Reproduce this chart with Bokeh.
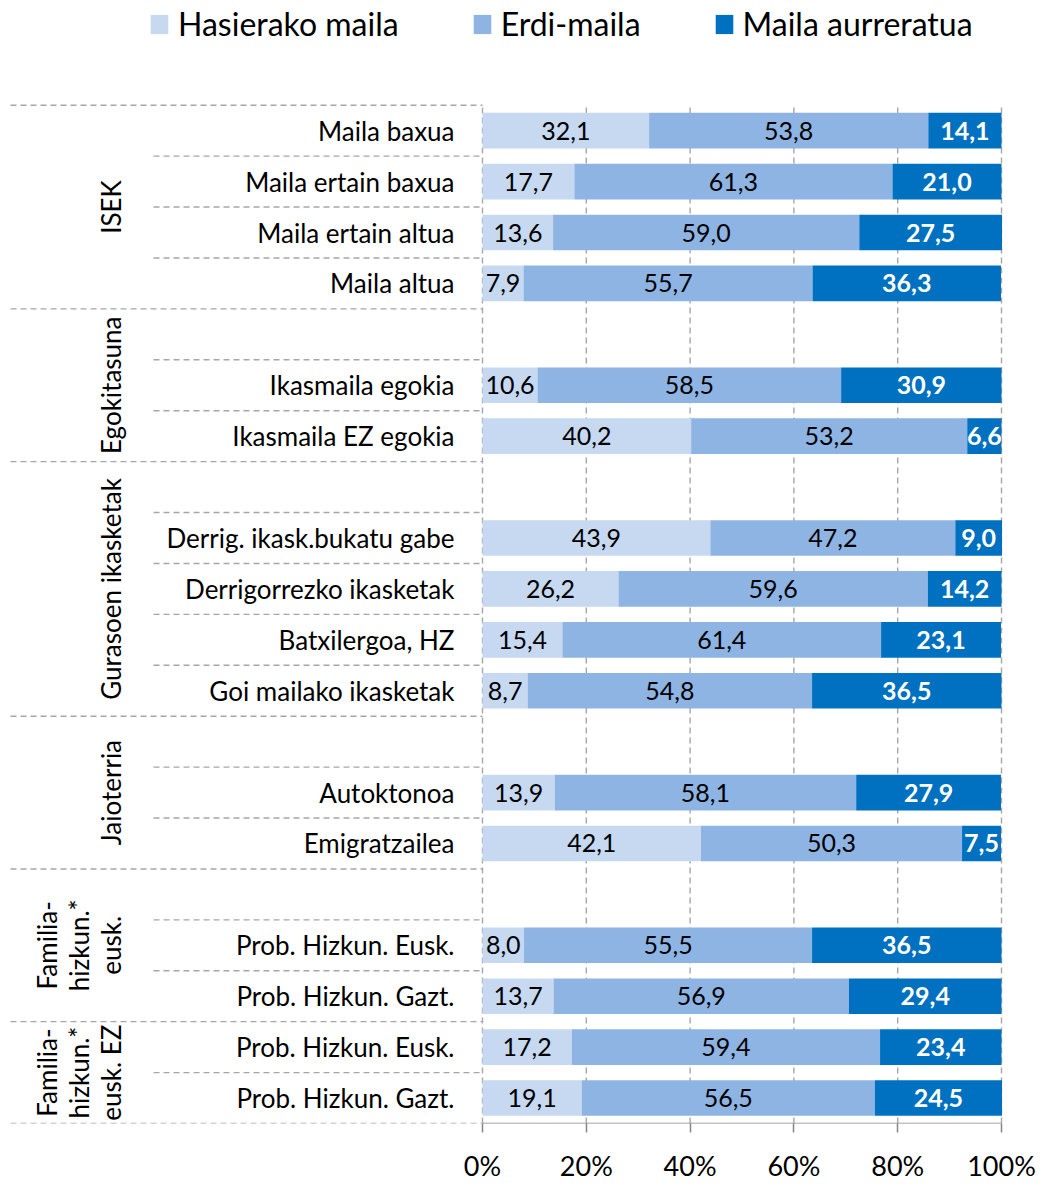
import math
from bokeh.plotting import figure
from bokeh.models import (ColumnDataSource, Range1d, FixedTicker, Legend, LegendItem)
from bokeh.core.properties import value
from bokeh.embed import file_html
from bokeh.resources import INLINE

# ---------------- data ----------------
series_names = ["Hasierako maila", "Erdi-maila", "Maila aurreratua"]

group_labels = ["ISEK", "Egokitasuna", "Gurasoen ikasketak", "Jaioterria",
                "Familia-\nhizkun.*\neusk.", "Familia-\nhizkun.*\neusk. EZ"]
group_sizes = [4, 3, 5, 3, 3, 2]   # rows per group (blank rows included)

categories = ["Maila baxua", "Maila ertain baxua", "Maila ertain altua", "Maila altua",
              "", "Ikasmaila egokia", "Ikasmaila EZ egokia",
              "", "Derrig. ikask.bukatu gabe", "Derrigorrezko ikasketak", "Batxilergoa, HZ", "Goi mailako ikasketak",
              "", "Autoktonoa", "Emigratzailea",
              "", "Prob. Hizkun. Eusk.", "Prob. Hizkun. Gazt.",
              "Prob. Hizkun. Eusk.", "Prob. Hizkun. Gazt."]

N = None
hasierako = [32.1, 17.7, 13.6, 7.9, N, 10.6, 40.2, N, 43.9, 26.2, 15.4, 8.7, N, 13.9, 42.1, N, 8.0, 13.7, 17.2, 19.1]
erdi      = [53.8, 61.3, 59.0, 55.7, N, 58.5, 53.2, N, 47.2, 59.6, 61.4, 54.8, N, 58.1, 50.3, N, 55.5, 56.9, 59.4, 56.5]
aurrera   = [14.1, 21.0, 27.5, 36.3, N, 30.9, 6.6, N, 9.0, 14.2, 23.1, 36.5, N, 27.9, 7.5, N, 36.5, 29.4, 23.4, 24.5]

x_ticks = [0, 20, 40, 60, 80, 100]
x_tick_labels = ["0%", "20%", "40%", "60%", "80%", "100%"]

# ---------------- styles ----------------
COLORS = ["#C6D9F1", "#8EB4E3", "#0070C0"]
FONT = "Lato"
GRID = "#A6A6A6"
W, H = 1040, 1184
PX = 5.19                      # pixels per percent
X0 = -482 / PX
X1 = X0 + W / PX
ROWPX = 51.05
FRAME_H = 1126
TOP_PAD = 105
n_rows = len(categories)

p = figure(width=W, height=H, output_backend="svg", toolbar_location=None,
           x_range=Range1d(X0, X1), y_range=Range1d(0, n_rows + TOP_PAD / ROWPX),
           y_axis_location=None, min_border_left=0, min_border_right=0,
           min_border_top=0, min_border_bottom=H - FRAME_H)
p.xgrid.visible = False
p.ygrid.visible = False
p.outline_line_color = None
p.background_fill_color = "white"

ax = p.xaxis[0]
ax.ticker = FixedTicker(ticks=x_ticks)
ax.major_label_overrides = {t: l for t, l in zip(x_ticks, x_tick_labels)}
ax.axis_line_color = None
ax.major_tick_out = 9
ax.major_tick_in = 0
ax.major_tick_line_color = "#868686"
ax.major_tick_line_width = 1.5
ax.minor_tick_line_color = None
ax.major_label_standoff = 16
ax.major_label_text_font = FONT
ax.major_label_text_font_size = "27px"
ax.major_label_text_color = "black"

def row_y(i):
    return n_rows - i - 0.5

# gridlines (dashed, behind bars)
p.segment(x0=x_ticks, x1=x_ticks, y0=[0] * len(x_ticks), y1=[n_rows] * len(x_ticks),
          line_color=GRID, line_dash="6 4", line_width=1.4)

# separators at row boundaries
bounds = [0]
for s in group_sizes:
    bounds.append(bounds[-1] + s)
long_x = (10 - 482) / PX
short_x = (153 - 482) / PX
sx0, sy = [], []
for k in range(n_rows + 1):
    sx0.append(long_x if k in bounds else short_x)
    sy.append(n_rows - k)
p.segment(x0=sx0, x1=[0] * len(sy), y0=sy, y1=sy, line_color=GRID, line_dash="6 4", line_width=1.4)

# bars
idx = [i for i in range(n_rows) if hasierako[i] is not None]
src = ColumnDataSource(dict(
    y=[row_y(i) for i in idx],
    h=[hasierako[i] for i in idx],
    e=[erdi[i] for i in idx],
    a=[aurrera[i] for i in idx],
))
rs = p.hbar_stack(["h", "e", "a"], y="y", height=0.7, color=COLORS, line_color=None, source=src)

# bottom axis line
p.segment(x0=[0], x1=[100], y0=[0], y1=[0], line_color="#868686", line_width=1.5)

# data labels
def fmt(v):
    return f"{v:.1f}".replace(".", ",")

for si, (tcol, style) in enumerate([("black", "normal"), ("black", "normal"), ("white", "bold")]):
    xs, ys, ts = [], [], []
    for i in idx:
        vals = [hasierako[i], erdi[i], aurrera[i]]
        start = sum(vals[:si])
        xs.append(start + vals[si] / 2)
        ys.append(row_y(i))
        ts.append(fmt(vals[si]))
    p.text(x=xs, y=ys, text=ts, text_align="center", text_baseline="middle",
           text_font=value(FONT), text_font_size="25px", text_color=tcol, text_font_style=style)

# category labels
cx, cy, ct = [], [], []
for i, c in enumerate(categories):
    if c:
        cx.append((454 - 482) / PX)
        cy.append(row_y(i))
        ct.append(c)
p.text(x=cx, y=cy, text=ct, text_align="right", text_baseline="middle",
       text_font=value(FONT), text_font_size="26px", text_color="black")

# group labels (rotated)
gx, gy, gt = [], [], []
for g, lab in enumerate(group_labels):
    mid = (bounds[g] + bounds[g + 1]) / 2
    gx.append((126 - 482) / PX)
    gy.append(n_rows - mid)
    gt.append(lab)
p.text(x=gx, y=gy, text=gt, angle=math.pi / 2, text_align="center", text_baseline="bottom",
       text_font=value(FONT), text_font_size="26px", text_color="black", text_line_height=1.0)

legend = Legend(items=[LegendItem(label=n, renderers=[r]) for n, r in zip(series_names, rs)],
                orientation="horizontal", location=(148, FRAME_H - 46),
                label_text_font=FONT, label_text_font_size="32px", label_text_color="black",
                glyph_width=22, glyph_height=24, label_standoff=8, spacing=72,
                padding=0, margin=0, border_line_color=None, background_fill_alpha=0)
p.add_layout(legend)

open("out.html", "w").write(file_html(p, INLINE))
